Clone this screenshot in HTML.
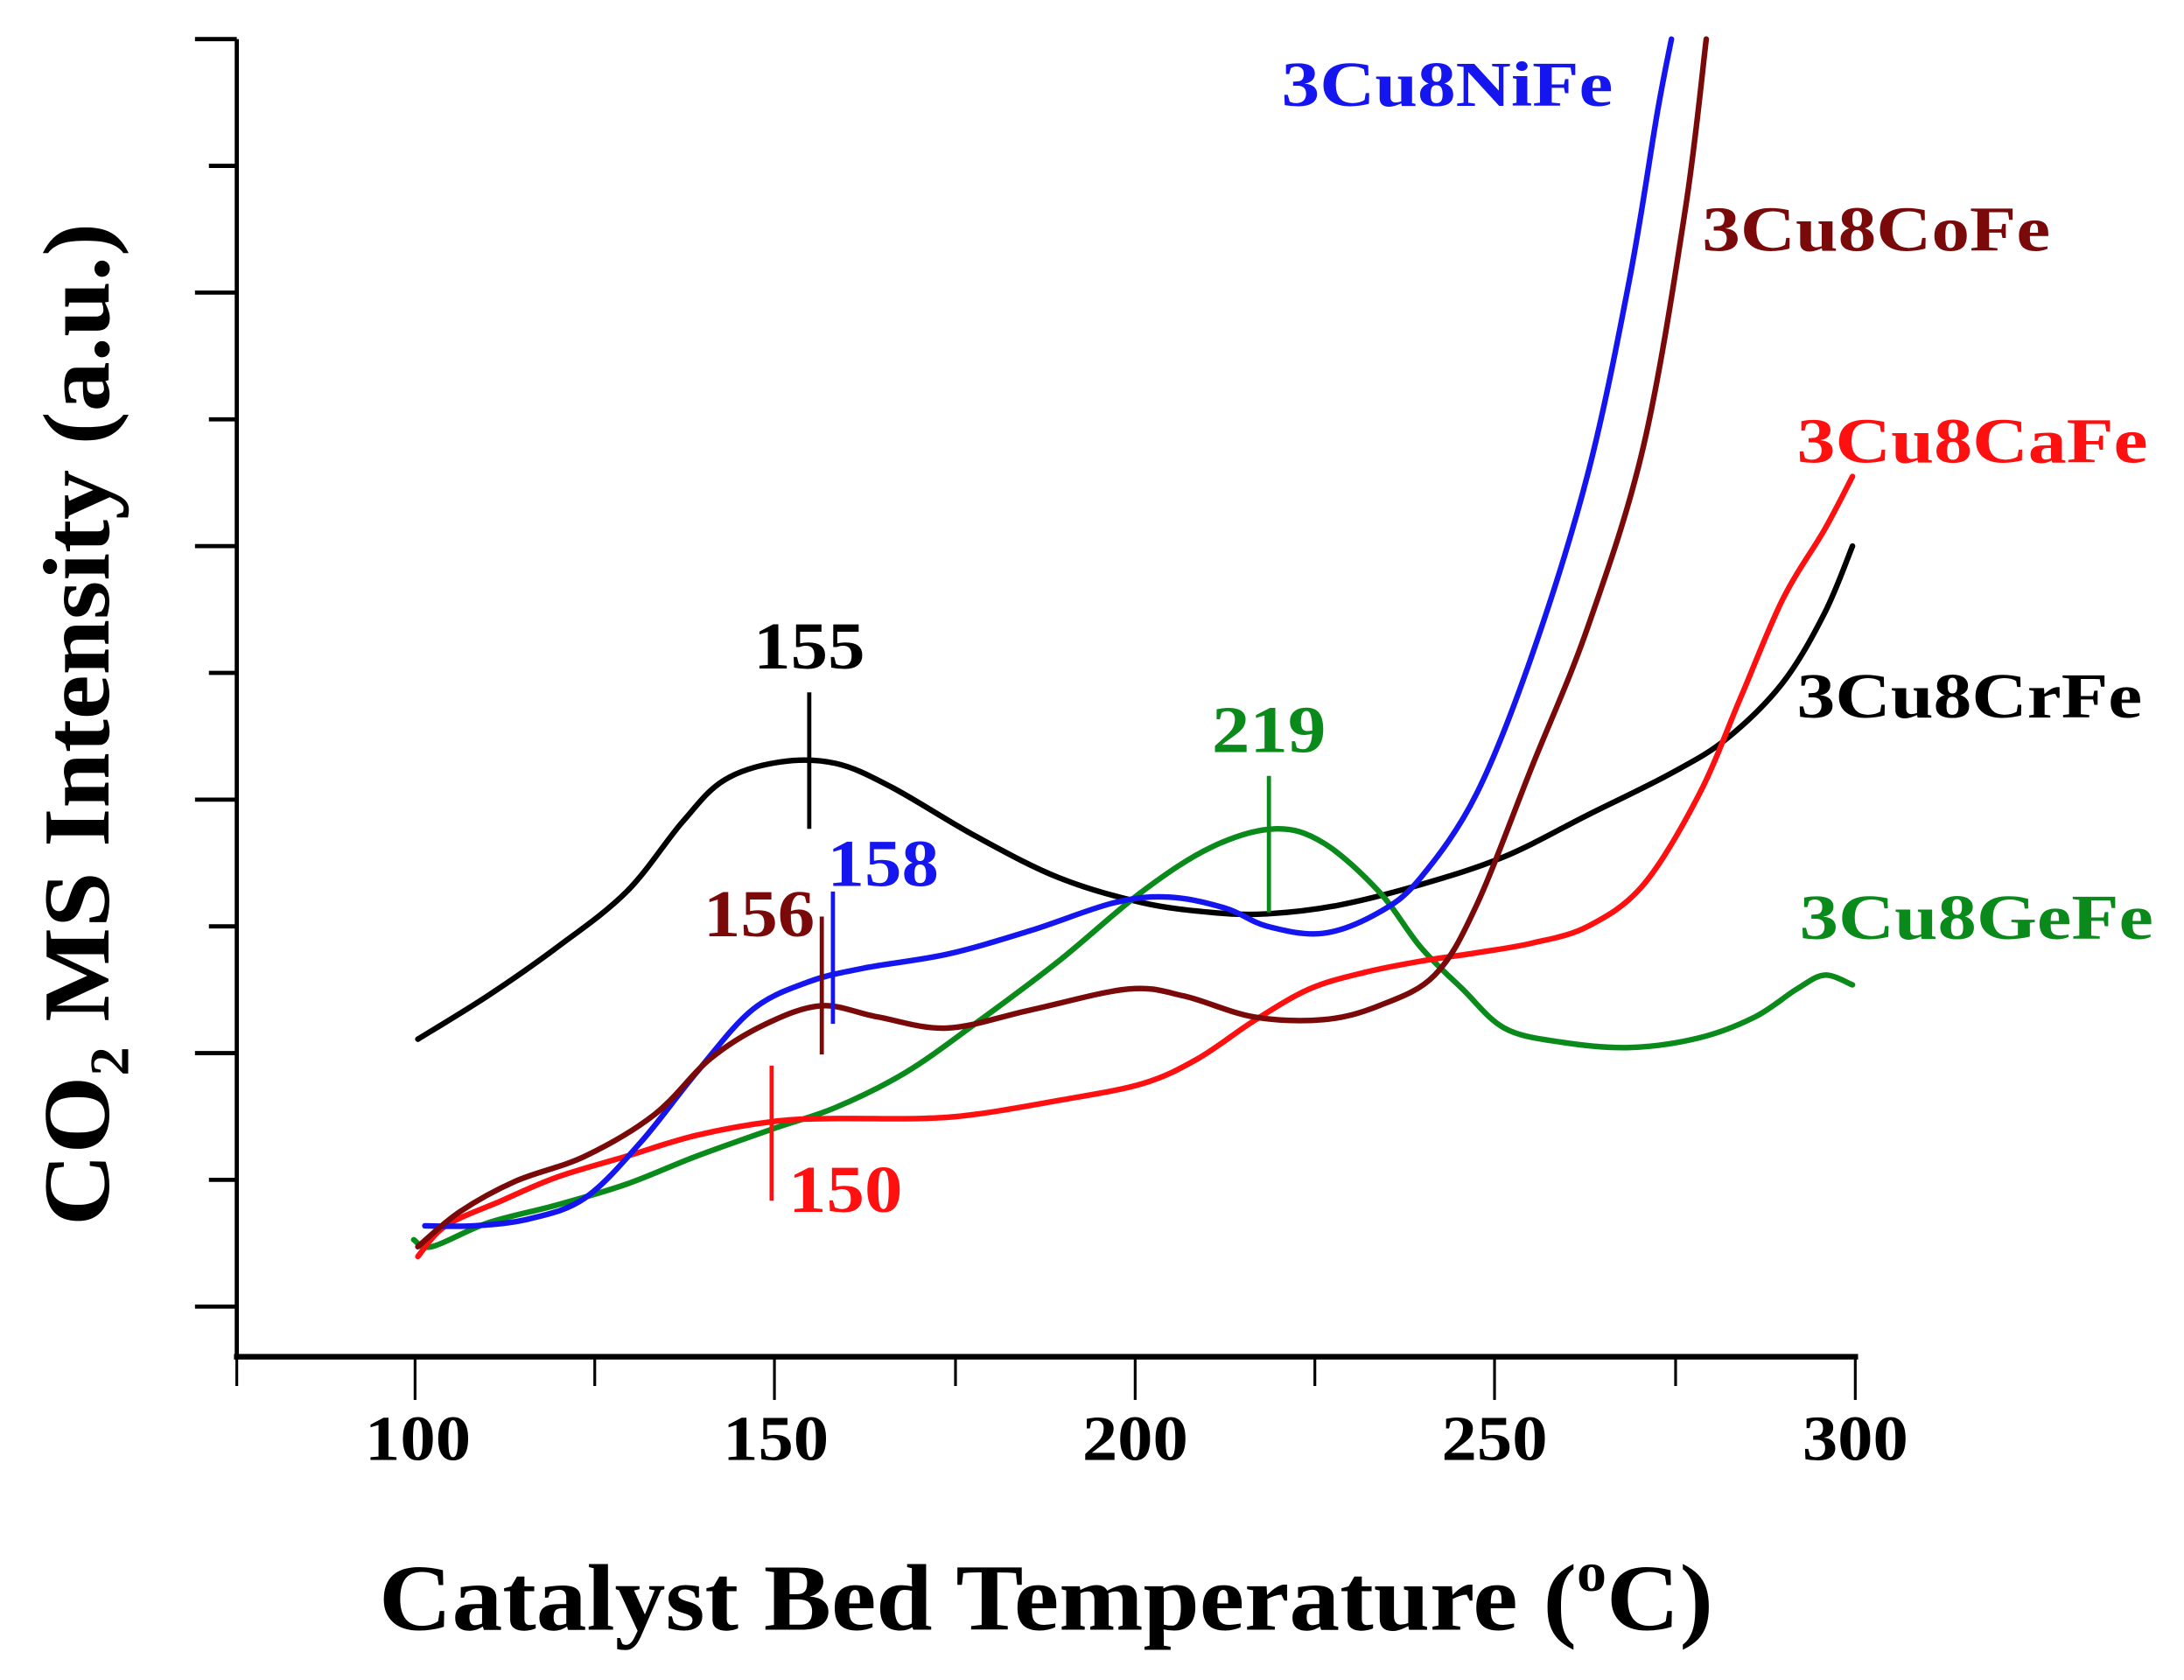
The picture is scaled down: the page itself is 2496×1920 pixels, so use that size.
<!DOCTYPE html>
<html><head><meta charset="utf-8"><style>
html,body{margin:0;padding:0;background:#fff;}
svg{display:block;}
text{font-family:"Liberation Serif",serif;font-weight:bold;}
</style></head><body>
<svg width="2496" height="1920" viewBox="0 0 1568 1206" xmlns="http://www.w3.org/2000/svg">
<g stroke="#000" stroke-width="3" fill="none">
<line x1="170" y1="28" x2="170" y2="975"/>
<line x1="168" y1="974" x2="1334" y2="974" stroke-width="4"/>
<line x1="140" y1="28" x2="170" y2="28"/><line x1="150" y1="119" x2="170" y2="119"/>
<line x1="140" y1="210" x2="170" y2="210"/><line x1="150" y1="301" x2="170" y2="301"/>
<line x1="140" y1="392" x2="170" y2="392"/><line x1="150" y1="483" x2="170" y2="483"/>
<line x1="140" y1="574" x2="170" y2="574"/><line x1="150" y1="665" x2="170" y2="665"/>
<line x1="140" y1="756" x2="170" y2="756"/><line x1="150" y1="847" x2="170" y2="847"/>
<line x1="140" y1="938" x2="170" y2="938"/>
<g stroke-width="2">
<line x1="170" y1="975" x2="170" y2="995"/><line x1="298" y1="975" x2="298" y2="1005"/>
<line x1="427" y1="975" x2="427" y2="995"/><line x1="556" y1="975" x2="556" y2="1005"/>
<line x1="686" y1="975" x2="686" y2="995"/><line x1="815" y1="975" x2="815" y2="1005"/>
<line x1="944" y1="975" x2="944" y2="995"/><line x1="1073" y1="975" x2="1073" y2="1005"/>
<line x1="1203" y1="975" x2="1203" y2="995"/><line x1="1332" y1="975" x2="1332" y2="1005"/>
</g>
</g>
<g font-size="46" fill="#000">
<text x="262" y="1048" textLength="76" lengthAdjust="spacingAndGlyphs">100</text>
<text x="519" y="1048" textLength="76" lengthAdjust="spacingAndGlyphs">150</text>
<text x="777" y="1048" textLength="76" lengthAdjust="spacingAndGlyphs">200</text>
<text x="1035" y="1048" textLength="76" lengthAdjust="spacingAndGlyphs">250</text>
<text x="1294" y="1048" textLength="76" lengthAdjust="spacingAndGlyphs">300</text>
</g>
<text x="272" y="1170" font-size="68" textLength="958" lengthAdjust="spacingAndGlyphs">Catalyst Bed Temperature (<tspan font-size="40" dy="-28">o</tspan><tspan dy="28">C)</tspan></text>
<text transform="translate(78,880) rotate(-90)" font-size="68" textLength="720" lengthAdjust="spacingAndGlyphs">CO<tspan font-size="40" dy="14">2</tspan><tspan dy="-14"> MS Intensity (a.u.)</tspan></text>
<g fill="none" stroke-width="4" stroke-linejoin="round" stroke-linecap="round">
<polyline class="s" stroke="#000" points="300,746 350,715 400,680 450,640 490,590 520,560 560,547 600,548 640,565 700,600 760,630 820,648 870,655 910,656 960,650 1020,635 1080,615 1140,585 1200,555 1240,530 1280,490 1310,440 1330,392"/>
<polyline class="s" stroke="#0a8a1a" points="297,890 310,895 350,878 400,865 450,850 500,830 556,810 600,795 650,770 700,735 760,690 820,640 870,608 915,595 950,605 990,640 1020,680 1050,710 1080,738 1120,748 1170,752 1220,745 1260,730 1290,710 1310,700 1330,707"/>
<polyline class="s" stroke="#ff1010" points="300,902 320,880 360,862 400,845 450,830 500,815 556,805 600,803 660,803 700,800 760,790 820,778 860,760 900,733 940,710 980,698 1020,690 1060,684 1100,677 1140,665 1180,635 1220,570 1250,500 1280,430 1310,380 1330,342"/>
<polyline class="s" stroke="#1515f0" points="305,880 340,880 380,875 420,860 460,820 500,770 540,725 580,705 620,695 680,685 740,668 800,648 840,644 880,652 910,665 950,670 990,655 1020,630 1060,570 1100,470 1140,340 1170,200 1190,80 1200,28"/>
<polyline class="s" stroke="#7a0a0a" points="300,895 330,870 370,848 420,830 470,800 510,760 550,735 590,722 630,730 680,738 740,725 810,710 850,715 900,730 950,732 990,722 1030,700 1060,650 1100,550 1140,450 1180,320 1210,150 1225,28"/>
</g>
<g stroke-width="3">
<line x1="581" y1="497" x2="581" y2="595" stroke="#000"/>
<line x1="911" y1="557" x2="911" y2="655" stroke="#0a8a1a"/>
<line x1="590" y1="658" x2="590" y2="757" stroke="#7a0a0a"/>
<line x1="598" y1="640" x2="598" y2="735" stroke="#1515f0"/>
<line x1="554" y1="765" x2="554" y2="862" stroke="#ff1010"/>
</g>
<g font-size="48">
<text x="541" y="480" fill="#000" textLength="80" lengthAdjust="spacingAndGlyphs">155</text>
<text x="870" y="540" fill="#0a8a1a" textLength="82" lengthAdjust="spacingAndGlyphs">219</text>
<text x="505" y="672" fill="#7a0a0a" textLength="80" lengthAdjust="spacingAndGlyphs">156</text>
<text x="594" y="636" fill="#1515f0" textLength="80" lengthAdjust="spacingAndGlyphs">158</text>
<text x="566" y="870" fill="#ff1010" textLength="82" lengthAdjust="spacingAndGlyphs">150</text>
</g>
<g font-size="46">
<text x="920" y="76" fill="#1515f0" textLength="238" lengthAdjust="spacingAndGlyphs">3Cu8NiFe</text>
<text x="1222" y="180" fill="#7a0a0a" textLength="250" lengthAdjust="spacingAndGlyphs">3Cu8CoFe</text>
<text x="1290" y="332" fill="#ff1010" textLength="252" lengthAdjust="spacingAndGlyphs">3Cu8CaFe</text>
<text x="1290" y="515" fill="#000" textLength="248" lengthAdjust="spacingAndGlyphs">3Cu8CrFe</text>
<text x="1292" y="674" fill="#0a8a1a" textLength="254" lengthAdjust="spacingAndGlyphs">3Cu8GeFe</text>
</g>
</svg>
<script>
document.querySelectorAll('polyline.s').forEach(function(pl){
var p=pl.getAttribute('points').trim().split(/\s+/).map(function(s){return s.split(',').map(Number);});
var d='M'+p[0][0]+','+p[0][1];
for(var i=0;i<p.length-1;i++){
var p0=p[i-1]||p[i],p1=p[i],p2=p[i+1],p3=p[i+2]||p2;
var c1=[p1[0]+(p2[0]-p0[0])/6,p1[1]+(p2[1]-p0[1])/6];
var c2=[p2[0]-(p3[0]-p1[0])/6,p2[1]-(p3[1]-p1[1])/6];
d+=' C'+c1[0]+','+c1[1]+' '+c2[0]+','+c2[1]+' '+p2[0]+','+p2[1];}
var path=document.createElementNS('http://www.w3.org/2000/svg','path');
path.setAttribute('d',d);path.setAttribute('stroke',pl.getAttribute('stroke'));
pl.parentNode.replaceChild(path,pl);});
</script>
</body></html>
